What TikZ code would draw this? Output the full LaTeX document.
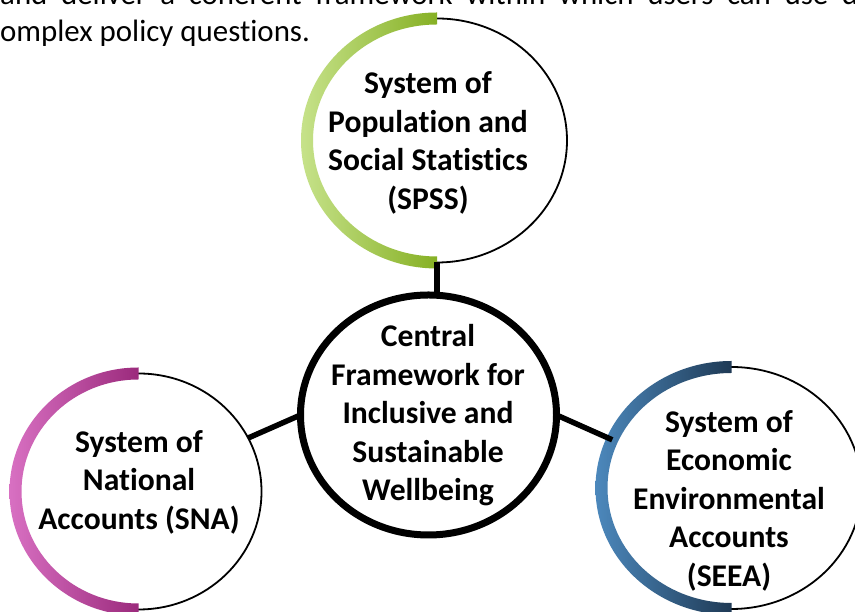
\documentclass[tikz,border=0pt]{standalone}
\usepackage{fontspec}
\setmainfont{Carlito}[Ligatures=NoCommon]
\usetikzlibrary{shapes.geometric,calc}
\definecolor{greenL}{HTML}{C6E28A}
\definecolor{greenD}{HTML}{86B024}
\definecolor{magL}{HTML}{D870C2}
\definecolor{magD}{HTML}{9B2A7C}
\definecolor{blueL}{HTML}{4C88BC}
\definecolor{blueD}{HTML}{1F3A55}
\begin{document}
\begin{tikzpicture}[x=1pt,y=1pt,
  ring/.style={ellipse, draw=black, line width=1.8pt, fill=white, inner sep=0pt, outer sep=0pt},
  hub/.style={ellipse, draw=black, line width=7pt, fill=white, inner sep=0pt, outer sep=0pt, minimum width=256pt, minimum height=240pt},
  txt/.style={align=center, inner sep=0pt, font=\bfseries\fontsize{31.6}{38.5}\selectfont},
  bodytxt/.style={anchor=base west, inner sep=0pt, font=\fontsize{30.9}{37}\selectfont},
  link/.style={line width=5.5pt, draw=black}
]
\clip (0,0) rectangle (855,612);
\fill[white] (0,0) rectangle (855,612);

% body text
\node[bodytxt] (body1) at (0,607) {\makebox[858pt][s]{and deliver a coherent framework within which users can use d}};
\node[bodytxt] (body2) at (0,570) {omplex policy questions.};

% circles
\node[ring, minimum width=260pt, minimum height=244pt] (spss) at (437,471.5) {};
\node[hub] (core) at (428.5,197) {};
\node[ring, minimum width=246pt, minimum height=236pt] (sna) at (138.5,120.5) {};
\node[ring, minimum width=260pt, minimum height=242pt] (seea) at (731.5,124) {};

% coloured half rings
\shade[left color=greenL, right color=greenD]
  ($(spss.center)+(0,128)$) arc[start angle=90, end angle=270, x radius=136pt, y radius=128pt]
  -- ++(0,12) arc[start angle=270, end angle=90, x radius=124pt, y radius=116pt] -- cycle;
\shade[left color=magL, right color=magD]
  ($(sna.center)+(0,124)$) arc[start angle=90, end angle=270, x radius=129pt, y radius=124pt]
  -- ++(0,12) arc[start angle=270, end angle=90, x radius=117pt, y radius=112pt] -- cycle;
\shade[left color=blueL, right color=blueD]
  ($(seea.center)+(0,127)$) arc[start angle=90, end angle=270, x radius=136pt, y radius=127pt]
  -- ++(0,12) arc[start angle=270, end angle=90, x radius=124pt, y radius=115pt] -- cycle;

% connectors
\draw[link] (spss.south) -- (spss.south |- core.north);
\draw[link] (sna.26) -- (core.west);
\draw[link] (core.east) -- (seea.158);

% texts
\node[txt] (tspss) at (428,469) {System of\\Population and\\Social Statistics\\(SPSS)};
\node[txt] (tcore) at (428,196.5) {Central\\Framework for\\Inclusive and\\Sustainable\\Wellbeing};
\node[txt] (tsna) at (139,130) {System of\\National\\Accounts (SNA)};
\node[txt] (tseea) at (729,111.5) {System of\\Economic\\Environmental\\Accounts\\(SEEA)};
\end{tikzpicture}
\end{document}
